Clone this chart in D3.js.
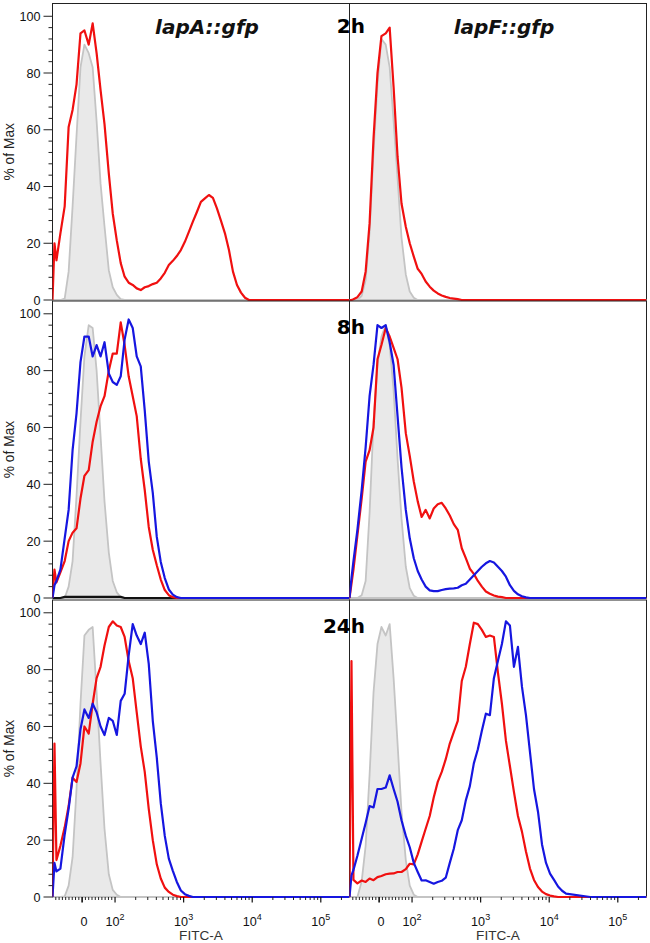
<!DOCTYPE html>
<html><head><meta charset="utf-8">
<script src="https://cdn.jsdelivr.net/npm/d3@7"></script>
<style>body{margin:0;background:#fff}svg{display:block}</style>
</head><body><svg id="c" width="650" height="943"></svg>
<script>
// FITC-A bin centres (histogram channels)
const bins = [-90,-84,-78,-66,-53,-41,-29,-17,-5,7,20,32,44,56,68,81,93,106,121,138,158,181,207,237,271,310,355,406,464,531,608,696,796,911,1042,1192,1364,1561,1786,2043,2337,2674,3059,3499,4004,4581,5242,5997,6862,7852,8983,10276,11758,13452,15393,17610,39540,108500,262144];

// % of Max per bin
const lapA2hCtrl = [0,0,0,0,0.5,10,33,58,82,90,87,82,63,41,26,10.5,4.5,1.8,0.3,0,0,0,0,0,0,0,0,0,0,0,0,0,0,0,0,0,0,0,0,0,0,0,0,0,0,0,0,0,0,0,0,0,0,0,0,0,0,0,0];
const lapA2hRed = [0,20,14,23.5,33,61,67,76,94,95,90,97.5,87,74,62,44.6,30.5,21,13,8.2,6.1,5.3,4.1,3.5,4.5,4.9,5.6,6.1,7.6,9.6,12.3,13.8,15.5,17.6,20.5,24,27.6,31,34.6,35.8,37,36,32.3,28,23.5,17.6,10,5.3,2.6,0.8,0,0,0,0,0,0,0,0,0];

const lapF2hCtrl = [0,0,0,0,1.5,7,24,52,76,92,90,82,63,43,22,9,3,0.8,0,0,0,0,0,0,0,0,0,0,0,0,0,0,0,0,0,0,0,0,0,0,0,0,0,0,0,0,0,0,0,0,0,0,0,0,0,0,0,0,0];
const lapF2hRed = [0,0,0.3,1,3,10,27,57,80,93,94,96,75,50.5,34,25.8,20,15.3,11,9.2,6.5,4.7,3.3,2.3,1.6,1.1,0.7,0.5,0.3,0,0,0,0,0,0,0,0,0,0,0,0,0,0,0,0,0,0,0,0,0,0,0,0,0,0,0,0,0,0];

const lapA8hCtrl = [0,0,0,0,0,4,13,36,62,85,96,95,80,57,34,16,6,2,0.3,0,0,0,0,0,0,0,0,0,0,0,0,0,0,0,0,0,0,0,0,0,0,0,0,0,0,0,0,0,0,0,0,0,0,0,0,0,0,0,0];
const lapA8hBlack = [0,0,0,0,0.4,0.4,0.4,0.4,0.4,0.4,0.4,0.4,0.4,0.4,0.4,0.4,0.4,0.4,0.4,0,0,0,0,0,0,0,0,0,0,0,0,0,0,0,0,0,0,0,0,0,0,0,0,0,0,0,0,0,0,0,0,0,0,0,0,0,0,0,0];
const lapA8hRed = [0,10,5.5,9,13,20,23,24.5,35,43,45,55,62,67.5,71,80,86,86,97,89,78,71,64,49,38,25,17,11.5,6.5,2.8,1,0.3,0,0,0,0,0,0,0,0,0,0,0,0,0,0,0,0,0,0,0,0,0,0,0,0,0,0,0];
const lapA8hBlue = [0,4.5,6,10,21,31,52,65,83,92,92,85,89,85,90,79,76,75,78,91,98,95,85,81.5,66,48,37,21.5,12.7,7,3,1.2,0.3,0,0,0,0,0,0,0,0,0,0,0,0,0,0,0,0,0,0,0,0,0,0,0,0,0,0];

const lapF8hCtrl = [0,0,0,0,1,6,30,62,82,92,96,89,73,49,28,11,3.5,0.8,0,0,0,0,0,0,0,0,0,0,0,0,0,0,0,0,0,0,0,0,0,0,0,0,0,0,0,0,0,0,0,0,0,0,0,0,0,0,0];
const lapF8hRed = [0,5,10,22,35,48,52,60,84,89,95,92,88,84,74,58,50,41,34,28.5,31,28,31.5,33,33.5,31.5,29,26,24,17.5,14,10.3,8.5,6,4,2.3,1.5,0.9,0.5,0.3,0,0,0,0,0,0,0,0,0,0,0,0,0,0,0,0,0,0,0];
const lapF8hBlue = [0,7,13,24,38,53,71,82,96,95,96,90,82,64,46,31,21,14,9.5,6.5,4,2.7,2.4,2.4,2.8,3.1,3.3,3.4,3.6,4.5,5,6.5,8,9.5,11,12.2,13,12.5,11,9.5,7.5,4.5,2.5,1.3,0.6,0.2,0,0,0,0,0,0,0,0,0,0,0,0,0];

const lapA24hCtrl = [0,0,0,0,0.2,4,14,38,68,92,94,95,72,47,24,8,2.5,0.8,0,0,0,0,0,0,0,0,0,0,0,0,0,0,0,0,0,0,0,0,0,0,0,0,0,0,0,0,0,0,0,0,0,0,0,0,0,0,0,0,0];
const lapA24hRed = [0,54,13,18,24.5,32,42,40.5,47,60,57.5,68,77,81,88.5,95,97,95.5,95,91.5,83,77,65,53,44,31,20,11.5,6.5,3.3,1.8,0.8,0.3,0,0,0,0,0,0,0,0,0,0,0,0,0,0,0,0,0,0,0,0,0,0,0,0,0,0];
const lapA24hBlue = [0,12,9,10,22,31,42,46,59,66,63,68,65,60,57,63,62,57,69,71.5,85,96,92,89,93,82,62,49,33,21.5,13.5,9.2,5.3,2.3,1,0.4,0,0,0,0,0,0,0,0,0,0,0,0,0,0,0,0,0,0,0,0,0,0,0];

const lapF24hCtrl = [0,0,0,0,5.5,18,43,72,89,95,92,96,77,54,30,13,4,0.8,0,0,0,0,0,0,0,0,0,0,0,0,0,0,0,0,0,0,0,0,0,0,0,0,0,0,0,0,0,0,0,0,0,0,0,0,0,0,0,0,0];
const lapF24hRed = [0,83,6,4.8,5.8,5.3,6.5,5.9,7,7.4,8,8.2,8.3,8.8,8.8,9.8,11.7,11.5,15,19.5,24,28.5,35,40.5,44,48.5,54,58,62,76,81,89,96.5,96,94,91.5,92,91.5,79,68,55,46,37,28.5,23,16,10,6,3.5,1.9,1,0.5,0.2,0,0,0,0,0,0];
const lapF24hBlue = [0,7.6,9.5,14.5,20.5,26,32,31.5,38,38,38.5,42.8,38,33.5,27,21.5,17.5,12,8.8,5.8,5.9,5.3,4.7,5.3,5.7,6.8,12,17,23.5,27,34,39,47,52,58.5,64.5,64,77,83,89,97,95.5,81,88,74,64,51,38,30,18.5,12,8.2,6,3.7,2.2,1.2,0,0,0];

const strains = ["lapA::gfp", "lapF::gfp"];
const times = ["2h", "8h", "24h"];
const yTicks = [0, 20, 40, 60, 80, 100];
const xTicks = [{v: 0, base: "0", exp: ""}, {v: 100, base: "10", exp: "2"}, {v: 1000, base: "10", exp: "3"}, {v: 10000, base: "10", exp: "4"}, {v: 100000, base: "10", exp: "5"}];
const xDomain = [-90, 262144];
const yDomain = [0, 104.5];

const RED = "#f01010", BLUE = "#1616e0", BLACK = "#111";
const panels = [
  {row: 0, col: 0, ctrl: lapA2hCtrl, lines: [[lapA2hRed, RED]]},
  {row: 0, col: 1, ctrl: lapF2hCtrl, lines: [[lapF2hRed, RED]]},
  {row: 1, col: 0, ctrl: lapA8hCtrl, lines: [[lapA8hBlack, BLACK], [lapA8hRed, RED], [lapA8hBlue, BLUE]]},
  {row: 1, col: 1, ctrl: lapF8hCtrl, lines: [[lapF8hRed, RED], [lapF8hBlue, BLUE]]},
  {row: 2, col: 0, ctrl: lapA24hCtrl, lines: [[lapA24hRed, RED], [lapA24hBlue, BLUE]]},
  {row: 2, col: 1, ctrl: lapF24hCtrl, lines: [[lapF24hRed, RED], [lapF24hBlue, BLUE]]}
];

const colX = [[52.5, 349.5], [349.5, 646.5]];
const rowY = [[3.5, 300], [301, 598], [600, 897]];
const SANS = '"Liberation Sans", Arial, sans-serif';
const WIDE = '"DejaVu Sans", Verdana, sans-serif';

// biexponential-like display transform: linear below 100, log10 above
const T = v => v >= 100 ? Math.log10(v) : 2 + 0.0048 * (v - 100);
function makeX(c) {
  const lin = d3.scaleLinear().domain(xDomain.map(T)).range(colX[c]);
  return v => lin(T(v));
}
function makeY(r) {
  return d3.scaleLinear().domain(yDomain).range([rowY[r][1], rowY[r][0]]);
}

const svg = d3.select("#c");
svg.append("rect").attr("width", 650).attr("height", 943).attr("fill", "#fff");
const defs = svg.append("defs");

panels.forEach((p, i) => {
  const x = makeX(p.col), y = makeY(p.row);
  const [x0, x1] = colX[p.col], [y0, y1] = rowY[p.row];
  defs.append("clipPath").attr("id", "clip" + i).append("rect")
    .attr("x", x0).attr("y", y0).attr("width", x1 - x0).attr("height", y1 - y0 + 1.5);
  const g = svg.append("g");
  g.append("rect").attr("x", x0).attr("y", y0).attr("width", x1 - x0).attr("height", y1 - y0)
    .attr("fill", "none").attr("stroke", "#222").attr("stroke-width", 1);
  const cg = g.append("g").attr("clip-path", `url(#clip${i})`);
  const area = d3.area().x((d, k) => x(bins[k])).y0(y(0)).y1(d => y(d));
  cg.append("path").datum(p.ctrl).attr("d", area)
    .attr("fill", "#e9e9e9").attr("stroke", "#c4c4c4").attr("stroke-width", 1.8).attr("stroke-linejoin", "round");
  const line = d3.line().x((d, k) => x(bins[k])).y(d => y(d));
  p.lines.forEach(([vals, col]) => {
    cg.append("path").datum(vals).attr("d", line)
      .attr("fill", "none").attr("stroke", col).attr("stroke-width", 2.2).attr("stroke-linejoin", "round");
  });

  // y axis for left column
  if (p.col === 0) {
    const ax = g.append("g");
    d3.range(0, 101, 4).forEach(t => {
      const major = t % 20 === 0;
      ax.append("line").attr("x1", x0 - (major ? 9 : 4)).attr("x2", x0).attr("y1", y(t)).attr("y2", y(t))
        .attr("stroke", "#222").attr("stroke-width", 1);
    });
    yTicks.forEach(t => {
      ax.append("text").attr("x", x0 - 12).attr("y", y(t)).attr("dy", "0.36em").attr("text-anchor", "end")
        .attr("font-family", SANS).attr("font-size", 12.6).attr("fill", "#111").text(t);
    });
    svg.append("text").attr("transform", `translate(13.5,${(y0 + y1) / 2}) rotate(-90)`)
      .attr("text-anchor", "middle").attr("font-family", SANS).attr("font-size", 13.8).attr("fill", "#222")
      .text("% of Max");
  }

  // x axis on bottom row
  if (p.row === 2) {
    const ax = g.append("g");
    const minor = [];
    for (let v = -80; v <= 90; v += 10) if (v !== 0) minor.push(v);
    for (let e = 2; e <= 5; e++) for (let m = 2; m <= 9; m++) { const v = m * Math.pow(10, e); if (v <= xDomain[1]) minor.push(v); }
    minor.forEach(v => ax.append("line").attr("x1", x(v)).attr("x2", x(v)).attr("y1", y1).attr("y2", y1 + 3)
      .attr("stroke", "#222").attr("stroke-width", 1));
    xTicks.forEach(t => {
      ax.append("line").attr("x1", x(t.v)).attr("x2", x(t.v)).attr("y1", y1).attr("y2", y1 + 5.5)
        .attr("stroke", "#111").attr("stroke-width", t.v === 0 ? 1.6 : 1.2);
      const tx = ax.append("text").attr("x", x(t.v) + (t.exp ? 0 : 2)).attr("y", 926).attr("text-anchor", "middle")
        .attr("font-family", SANS).attr("font-size", 12.6).attr("fill", "#111");
      tx.append("tspan").text(t.base);
      if (t.exp) tx.append("tspan").attr("dy", -6).attr("font-size", 9).text(t.exp);
    });
    svg.append("text").attr("x", (x0 + x1) / 2).attr("y", 940).attr("text-anchor", "middle")
      .attr("font-family", SANS).attr("font-size", 13.6).attr("fill", "#333").text("FITC-A");
  }
});

// strain titles
strains.forEach((s, c) => {
  svg.append("text").attr("x", (colX[c][0] + colX[c][1]) / 2 + 6).attr("y", 34).attr("text-anchor", "middle")
    .attr("font-family", WIDE).attr("font-weight", "bold").attr("font-style", "italic").attr("font-size", 20)
    .attr("fill", "#111").text(s);
});
// time labels
const timeBase = [33, 334, 633];
times.forEach((t, r) => {
  svg.append("text").attr("x", 365).attr("y", timeBase[r]).attr("text-anchor", "end")
    .attr("font-family", WIDE).attr("font-weight", "bold").attr("font-size", 20).attr("fill", "#000").text(t);
});
</script></body></html>
